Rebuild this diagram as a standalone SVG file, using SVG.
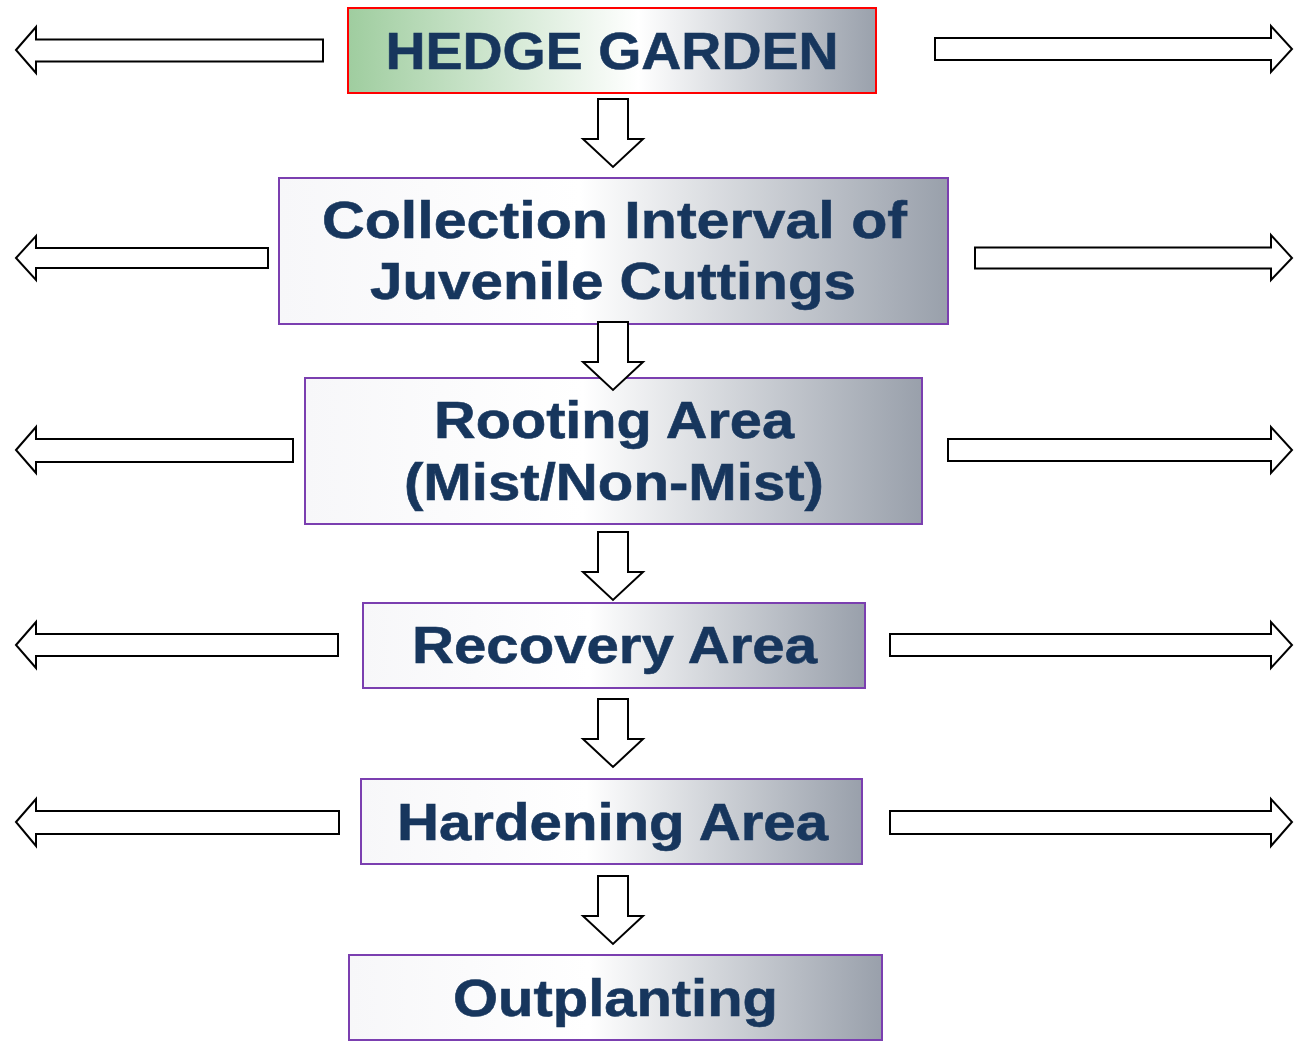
<svg xmlns="http://www.w3.org/2000/svg" width="1294" height="1045" viewBox="0 0 1294 1045">
<defs>
<linearGradient id="gGreen" x1="0" y1="0" x2="1" y2="0">
<stop offset="0" stop-color="#9fcd9f"/>
<stop offset="0.55" stop-color="#ffffff"/>
<stop offset="1" stop-color="#9aa1ac"/>
</linearGradient>
<linearGradient id="gGray" x1="0" y1="0" x2="1" y2="0">
<stop offset="0" stop-color="#f7f7f9"/>
<stop offset="0.45" stop-color="#ffffff"/>
<stop offset="1" stop-color="#99a0ab"/>
</linearGradient>
<style>
.box{fill:url(#gGray);stroke:#7b3fb0;stroke-width:2}
.box1{fill:url(#gGreen);stroke:#ff0000;stroke-width:2}
.lbl{font-family:"Liberation Sans",Arial,sans-serif;font-weight:bold;font-size:52px;fill:#17365d;text-anchor:middle;stroke:#17365d;stroke-width:0.6}
.arr{fill:#ffffff;stroke:#000000;stroke-width:2;stroke-linejoin:miter}
</style>
</defs>
<rect width="1294" height="1045" fill="#ffffff"/>
<g id="node-hedge-garden">
<rect class="box1" x="348" y="8" width="528" height="85"/>
<text class="lbl" x="612" y="69" textLength="453" lengthAdjust="spacingAndGlyphs">HEDGE GARDEN</text>
</g>
<g id="node-collection">
<rect class="box" x="279" y="178" width="669" height="146"/>
<text class="lbl" x="614.5" y="238" textLength="585" lengthAdjust="spacingAndGlyphs">Collection Interval of</text>
<text class="lbl" x="613" y="299" textLength="486" lengthAdjust="spacingAndGlyphs">Juvenile Cuttings</text>
</g>
<g id="node-rooting">
<rect class="box" x="305" y="378" width="617" height="146"/>
<text class="lbl" x="614" y="438" textLength="360" lengthAdjust="spacingAndGlyphs">Rooting Area</text>
<text class="lbl" x="614" y="500" textLength="420" lengthAdjust="spacingAndGlyphs">(Mist/Non-Mist)</text>
</g>
<g id="node-recovery">
<rect class="box" x="363" y="603" width="502" height="85"/>
<text class="lbl" x="614.5" y="663" textLength="405" lengthAdjust="spacingAndGlyphs">Recovery Area</text>
</g>
<g id="node-hardening">
<rect class="box" x="361" y="779" width="501" height="85"/>
<text class="lbl" x="612.5" y="840" textLength="431" lengthAdjust="spacingAndGlyphs">Hardening Area</text>
</g>
<g id="node-outplanting">
<rect class="box" x="349" y="955" width="533" height="85"/>
<text class="lbl" x="615.5" y="1016" textLength="325" lengthAdjust="spacingAndGlyphs">Outplanting</text>
</g>
<g id="connectors">
<path class="arr" d="M16,50 L36,27 L36,39.5 L323,39.5 L323,61.5 L36,61.5 L36,73 Z"/>
<path class="arr" d="M935,38 L1271,38 L1271,26 L1292,49 L1271,72 L1271,60 L935,60 Z"/>
<path class="arr" d="M16,258 L36,236 L36,248 L268,248 L268,268 L36,268 L36,280 Z"/>
<path class="arr" d="M975,247.5 L1271,247.5 L1271,235 L1292,258 L1271,280 L1271,268.5 L975,268.5 Z"/>
<path class="arr" d="M16,450 L36,427 L36,439 L293,439 L293,462 L36,462 L36,473 Z"/>
<path class="arr" d="M948,439 L1271,439 L1271,427 L1292,450 L1271,473 L1271,461 L948,461 Z"/>
<path class="arr" d="M16,645 L36,622 L36,634 L338,634 L338,656 L36,656 L36,668 Z"/>
<path class="arr" d="M890,634 L1271,634 L1271,622 L1292,645 L1271,668 L1271,656 L890,656 Z"/>
<path class="arr" d="M16,822 L36,799 L36,811 L339,811 L339,834 L36,834 L36,846 Z"/>
<path class="arr" d="M890,811 L1271,811 L1271,799 L1292,822 L1271,846 L1271,834 L890,834 Z"/>
<path class="arr" d="M598,99 L628,99 L628,139 L643,139 L613,167 L583,139 L598,139 Z"/>
<path class="arr" d="M598,322 L628,322 L628,362 L643,362 L613,390 L583,362 L598,362 Z"/>
<path class="arr" d="M598,532 L628,532 L628,572 L643,572 L613,600 L583,572 L598,572 Z"/>
<path class="arr" d="M598,699 L628,699 L628,739 L643,739 L613,767 L583,739 L598,739 Z"/>
<path class="arr" d="M598,876 L628,876 L628,916 L643,916 L613,944 L583,916 L598,916 Z"/>
</g>
</svg>
